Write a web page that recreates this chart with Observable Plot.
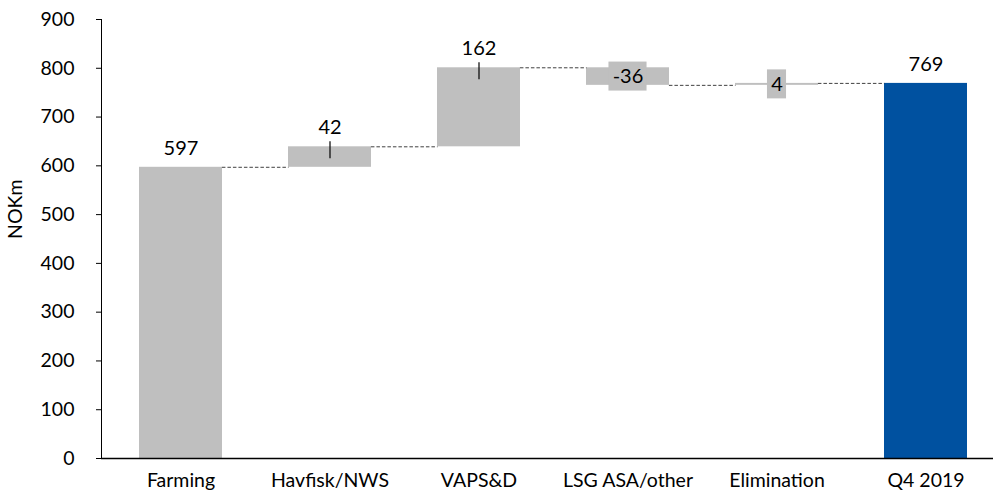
<!DOCTYPE html>
<html><head><meta charset="utf-8">
<script src="https://cdn.jsdelivr.net/npm/d3@7"></script>
<script src="https://cdn.jsdelivr.net/npm/@observablehq/plot@0.6"></script>
<style>body{margin:0;background:#fff} #chart svg{display:block}</style>
</head><body><div id="chart"></div>
<script>
// ---- data ----
const categories = ["Farming", "Havfisk/NWS", "VAPS&D", "LSG ASA/other", "Elimination", "Q4 2019"];
const values = [597, 42, 162, -36, 4, 769];
const isTotal = [true, false, false, false, false, true];
const yTicks = [0, 100, 200, 300, 400, 500, 600, 700, 800, 900];
const yLabel = "NOKm";

// ---- derived waterfall rows ----
let running = 0;
const rows = categories.map((cat, i) => {
  let start, end;
  if (isTotal[i]) { start = 0; end = values[i]; }
  else { start = running; end = running + values[i]; }
  running = end;
  return {cat, i, value: values[i], start, end, top: Math.max(start, end), mid: (start + end) / 2, total: isTotal[i]};
});
const connectors = rows.slice(0, -1).map(r => ({cat: r.cat, level: r.end}));
const boxed = rows.filter(r => !r.total && (r.value < 0 || Math.abs(r.value) < 10));
const above = rows.filter(r => !boxed.includes(r));
const leaders = rows.filter(r => !r.total && !boxed.includes(r));

// ---- layout ----
const GRAY = "#bfbfbf", BLUE = "#0051a0";
const xRange = [101, 1004], pIn = 0.445, pOut = 0.244;
const step = (xRange[1] - xRange[0]) / (categories.length - pIn + 2 * pOut);
const bw = step * (1 - pIn);
const gap = step - bw;

const chart = Plot.plot({
  width: 993, height: 495,
  marginLeft: 101, marginRight: 0, marginTop: 19, marginBottom: 37,
  style: {fontFamily: "Lato, 'Open Sans', sans-serif", fontSize: "19.5px", color: "black", background: "white"},
  x: {domain: categories, range: xRange, paddingInner: pIn, paddingOuter: pOut, tickSize: 0, tickPadding: 15, label: null},
  y: {domain: [0, 900], ticks: yTicks, tickFormat: d3.format("d"), tickSize: 5, tickPadding: 22, line: true, label: null},
  marks: [
    Plot.barY(rows.filter(d => !(d.total && d.i > 0)), {x: "cat", y1: "start", y2: "end", fill: GRAY}),
    Plot.barY(rows.filter(d => d.total && d.i > 0), {x: "cat", y1: "start", y2: "end", fill: BLUE}),
    Plot.tickY(connectors, {x: "cat", y: "level", dx: step / 2, insetLeft: (bw - gap) / 2, insetRight: (bw - gap) / 2,
      stroke: "#404040", strokeWidth: 1, strokeDasharray: "3.5,2"}),
    Plot.ruleX(leaders, {x: "cat", y1: "end", y2: "end", insetTop: -5, insetBottom: -12, stroke: "black", strokeWidth: 1.2}),
    Plot.barY(boxed.filter(d => Math.abs(d.value) >= 10), {x: "cat", y1: "mid", y2: "mid", insetTop: -14.5, insetBottom: -14.5,
      insetLeft: (bw - 38) / 2, insetRight: (bw - 38) / 2, fill: GRAY}),
    Plot.barY(boxed.filter(d => Math.abs(d.value) < 10), {x: "cat", y1: "mid", y2: "mid", insetTop: -14.5, insetBottom: -14.5,
      insetLeft: (bw - 19) / 2, insetRight: (bw - 19) / 2, fill: GRAY}),
    Plot.text(above, {x: "cat", y: "top", text: d => String(d.value), dy: -19, fontSize: 20, fill: "black"}),
    Plot.text(boxed, {x: "cat", y: "mid", text: d => String(d.value), fontSize: 20, fill: "black"}),
    Plot.text([yLabel], {text: d => d, frameAnchor: "left", rotate: -90, dx: -86, fontSize: 19.5, fill: "black"}),
    Plot.ruleY([0], {stroke: "black", strokeWidth: 1.6})
  ]
});
document.getElementById("chart").append(chart);
</script>
</body></html>
